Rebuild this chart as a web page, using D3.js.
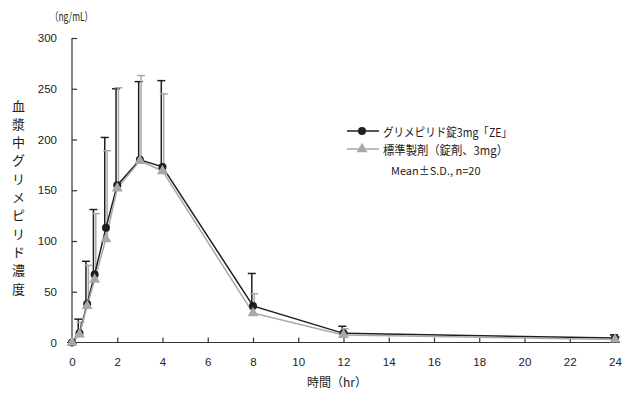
<!DOCTYPE html>
<html><head><meta charset="utf-8">
<script src="https://cdn.jsdelivr.net/npm/d3@7"></script>
<style>
body{margin:0;background:#fff}
svg{display:block}
text{font-family:"Noto Sans CJK JP","Noto Sans",sans-serif;fill:#222}
</style>
</head><body>
<svg id="c" width="638" height="403"></svg>
<script>
// ---- data ----
const times   = [0, 0.33, 0.67, 1, 1.5, 2, 3, 4, 8, 12, 24];
const zeMean  = [0, 9, 38, 67, 113, 155, 180, 173, 36, 9, 4.5];
const zeSD    = [0, 14, 42, 64, 89, 95, 77, 85, 32, 7, 3];
const stdMean = [0, 8, 36, 62, 102, 152, 179, 169, 29, 7.5, 3];
const stdSD   = [0, 12, 40, 65, 87, 99, 84, 76, 19, 6, 2.5];
const xTicks  = [0,2,4,6,8,10,12,14,16,18,20,22,24];
const yTicks  = [0,50,100,150,200,250,300];
const seriesNames = ["グリメピリド錠3mg「ZE」", "標準製剤（錠剤、3mg）"];
const noteText = "Mean±S.D., n=20";
const yLabel = "血漿中グリメピリド濃度";
const xLabel = "時間（hr）";
const unitLabel = "（ng/mL）";

const BLACK = "#1e1e1e", GRAY = "#a8a8a8";

const svg = d3.select("#c");
const x = d3.scaleLinear().domain([0,24]).range([72,615]);
const y = d3.scaleLinear().domain([0,300]).range([342.5,38]);

// axes
const gx = svg.append("g").attr("transform",`translate(0,${y(0)})`)
  .call(d3.axisBottom(x).tickValues(xTicks).tickSizeInner(-5).tickSizeOuter(0).tickPadding(15));
const gy = svg.append("g").attr("transform",`translate(${x(0)},0)`)
  .call(d3.axisLeft(y).tickValues(yTicks).tickSizeInner(-5).tickSizeOuter(0).tickPadding(15));
[gx,gy].forEach(g=>{
  g.select(".domain").remove();
  g.selectAll(".tick line").attr("stroke","#333").attr("stroke-width",1.2);
  g.selectAll(".tick text").attr("font-size",11.5).attr("fill","#222")
    .style("font-family","'Liberation Sans',Arial,sans-serif");
});
svg.append("line").attr("x1",x(0)).attr("x2",x(0)).attr("y1",y(0)).attr("y2",y(300))
  .attr("stroke","#333").attr("stroke-width",1.2);
svg.append("line").attr("x1",x(0)-5).attr("x2",x(24)+5).attr("y1",y(0)).attr("y2",y(0))
  .attr("stroke","#333").attr("stroke-width",1.2);

// error bars
function errBars(mean, sd, color, dx){
  const g = svg.append("g").attr("stroke",color).attr("stroke-width",1.5);
  times.forEach((t,i)=>{
    if(sd[i]<=0) return;
    const cx = x(t)+dx, top = y(mean[i]+sd[i]);
    g.append("line").attr("x1",cx).attr("x2",cx).attr("y1",y(mean[i])).attr("y2",top);
    g.append("line").attr("x1",cx-4).attr("x2",cx+4).attr("y1",top).attr("y2",top);
  });
}
errBars(zeMean, zeSD, BLACK, -1.2);
errBars(stdMean, stdSD, GRAY, 1.2);

// lines
const line = d3.line().x((d,i)=>x(times[i])).y(d=>y(d));
svg.append("path").attr("d",line(zeMean)).attr("fill","none").attr("stroke",BLACK).attr("stroke-width",1.5);
svg.append("path").attr("d",line(stdMean)).attr("fill","none").attr("stroke",GRAY).attr("stroke-width",1.5);

// markers
const tri = d3.symbol().type(d3.symbolTriangle).size(52);
svg.append("g").selectAll("circle").data(zeMean).join("circle")
  .attr("cx",(d,i)=>x(times[i])).attr("cy",d=>y(d)).attr("r",4).attr("fill",BLACK);
svg.append("g").selectAll("path").data(stdMean).join("path")
  .attr("d",tri).attr("transform",(d,i)=>`translate(${x(times[i])},${y(d)})`).attr("fill",GRAY);

// legend
const lg = svg.append("g");
lg.append("line").attr("x1",347).attr("x2",379).attr("y1",131).attr("y2",131).attr("stroke",BLACK).attr("stroke-width",1.5);
lg.append("circle").attr("cx",362).attr("cy",131).attr("r",4).attr("fill",BLACK);
lg.append("line").attr("x1",347).attr("x2",379).attr("y1",149).attr("y2",149).attr("stroke",GRAY).attr("stroke-width",1.5);
lg.append("path").attr("d",tri).attr("transform","translate(362,149)").attr("fill",GRAY);
lg.append("text").attr("x",383).attr("y",131).attr("dominant-baseline","central").attr("font-size",12)
  .attr("textLength",129).attr("lengthAdjust","spacingAndGlyphs").text(seriesNames[0]);
lg.append("text").attr("x",383).attr("y",149).attr("dominant-baseline","central").attr("font-size",12)
  .attr("textLength",125).attr("lengthAdjust","spacingAndGlyphs").text(seriesNames[1]);
lg.append("text").attr("x",391).attr("y",170).attr("dominant-baseline","central").attr("font-size",11).text(noteText);

// axis titles
svg.append("text").attr("x",50).attr("y",16).attr("dominant-baseline","central")
  .attr("font-size",11.5).attr("textLength",43).attr("lengthAdjust","spacingAndGlyphs").text(unitLabel);
svg.append("text").attr("x",337).attr("y",381).attr("text-anchor","middle").attr("dominant-baseline","central")
  .attr("font-size",12).text(xLabel);
const chars = Array.from(yLabel);
svg.append("g").selectAll("text").data(chars).join("text")
  .attr("x",18.5).attr("y",(d,i)=>105+i*18.3).attr("text-anchor","middle").attr("dominant-baseline","central")
  .attr("font-size",13).text(d=>d);
</script>
</body></html>
